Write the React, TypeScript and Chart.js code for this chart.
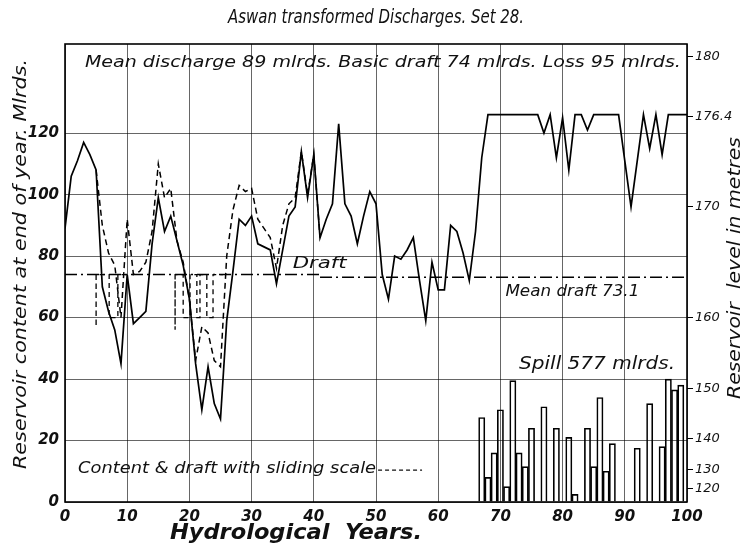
import React, { useEffect, useRef } from "react";
import { Chart, registerables } from "chart.js";

Chart.register(...registerables);

// Reservoir content at end of year (mlrds), years 0..100
const contentYears = [
  0, 1, 2, 3, 4, 5, 6, 7, 8, 9, 10, 11, 12, 13, 14, 15, 16, 17, 18, 19, 20,
  21, 22, 23, 24, 25, 26, 27, 28, 29, 30, 31, 32, 33, 34, 35, 36, 37, 38, 39, 40,
  41, 42, 43, 44, 45, 46, 47, 48, 49, 50, 51, 52, 53, 54, 55, 56, 57, 58, 59, 60,
  61, 62, 63, 64, 65, 66, 67, 68, 69, 70, 71, 72, 73, 74, 75, 76, 77, 78, 79, 80,
  81, 82, 83, 84, 85, 86, 87, 88, 89, 90, 91, 92, 93, 94, 95, 96, 97, 98, 99, 100,
];
const contentValues = [
  89, 106, 111, 117, 113, 108, 70, 62, 56, 45, 74, 58, 60, 62, 84, 99, 88, 93, 85, 77, 66,
  45, 30, 44, 32, 27, 59, 75, 92, 90, 93, 84, 83, 82, 71, 82, 93, 96, 114, 99, 113,
  86, 92, 97, 123, 97, 93, 84, 93, 101, 97, 74, 66, 80, 79, 82, 86, 72, 59, 78, 69,
  69, 90, 88, 81, 72, 88, 112, 126, 126, 126, 126, 126, 126, 126, 126, 126, 120, 126, 112, 125,
  108, 126, 126, 121, 126, 126, 126, 126, 126, 111, 96, 111, 126, 115, 126, 113, 126, 126, 126, 126,
];

// Content with sliding scale draft (dashed), years 5..41
const slidingYears = [
  5, 6, 7, 8, 9, 10, 11, 12, 13, 14, 15, 16, 17, 18, 19, 20, 21, 22, 23,
  24, 25, 26, 27, 28, 29, 30, 31, 32, 33, 34, 35, 36, 37, 38, 39, 40, 41,
];
const slidingValues = [
  108, 90, 81, 77, 60, 92, 74, 75, 78, 88, 110, 99, 102, 85, 78, 66, 46, 57, 55,
  46, 44, 80, 95, 103, 101, 102, 92, 89, 86, 76, 90, 97, 99, 114, 100, 113, 86,
];

// Draft with sliding scale (dashed steps); null breaks the line
const slideDraftYears = [5, 5, 7.1, 8.5, 9.8, 12, 17.7, 17.7, 19, 20.1, 21.2, 21.7, 22.8, 23.8, 25.4];
const slideDraftValues = [74, 57, 74, 60, 74, null, 74, 56, 74, 60, 74, 60, 74, 60, 74];

// Basic draft and mean draft (dash-dot)
const draftYears = [0, 41];
const draftValues = [74, 74];
const meanDraftYears = [41, 100];
const meanDraftValues = [73.1, 73.1];

// Spill per year (mlrds)
const spillYears = [
  67, 68, 69, 70, 71, 72, 73, 74, 75, 76, 77, 78, 79, 80, 81, 82, 83,
  84, 85, 86, 87, 88, 89, 90, 91, 92, 93, 94, 95, 96, 97, 98, 99,
];
const spillValues = [
  27.5, 8, 16, 30, 5, 39.5, 16, 11.5, 24, 0, 31, 0, 24, 0, 21, 2.5, 0,
  24, 11.5, 34, 10, 19, 0, 0, 0, 17.5, 0, 32, 0, 18, 40, 36.5, 38,
];

// Axis ticks
const leftTicks = [0, 20, 40, 60, 80, 100, 120];
const levelLabels = ["120", "130", "140", "150", "160", "170", "176.4", "180"];
const levelContent = [4.5, 10.5, 20.5, 37, 60, 96, 125.5, 145];

const FONT = '"DejaVu Sans", sans-serif';
const INK = "#111";

function drawFit(ctx: CanvasRenderingContext2D, text: string, x: number, y: number, size: number, width: number, weight = "normal", rotate = false) {
  ctx.save();
  ctx.font = `italic ${weight} ${size}px ${FONT}`;
  ctx.fillStyle = INK;
  ctx.textBaseline = "middle";
  const w = ctx.measureText(text).width;
  ctx.translate(x, y);
  if (rotate) {
    ctx.rotate(-Math.PI / 2);
    ctx.textAlign = "center";
  } else {
    ctx.textAlign = "left";
  }
  ctx.scale(width / w, 1);
  ctx.fillText(text, 0, 0);
  ctx.restore();
}

const textPlugin = {
  id: "texts",
  afterDraw(chart: any) {
    const { ctx, chartArea: ca, scales } = chart;
    const xs = scales.x;
    const ys = scales.y;
    ctx.save();
    ctx.strokeStyle = "#000";
    ctx.lineWidth = 1.6;
    ctx.strokeRect(ca.left, ca.top, ca.right - ca.left, ca.bottom - ca.top);
    ctx.restore();

    const X = (v: number) => xs.getPixelForValue(v);
    const Y = (v: number) => ys.getPixelForValue(v);

    // Title
    drawFit(ctx, "Aswan transformed Discharges. Set 28.", (ca.left + ca.right) / 2 - 148, 18, 20, 296);
    drawFit(ctx, "Mean discharge 89 mlrds. Basic draft 74 mlrds. Loss 95 mlrds.", X(3.2), Y(143), 16, 596);
    drawFit(ctx, "Draft", X(36.6), Y(77.5), 16, 54);
    drawFit(ctx, "Mean draft 73.1", X(70.8), Y(68.3), 16, 134);
    drawFit(ctx, "Spill 577 mlrds.", X(73), Y(44.8), 17, 156);
    drawFit(ctx, "Content & draft with sliding scale", X(2.1), Y(10.7), 15, 298);
    ctx.save();
    ctx.strokeStyle = INK;
    ctx.lineWidth = 1.2;
    ctx.setLineDash([4, 3]);
    ctx.beginPath();
    ctx.moveTo(X(2.1) + 300, Y(10.7) + 1);
    ctx.lineTo(X(2.1) + 344, Y(10.7) + 1);
    ctx.stroke();
    ctx.restore();

    // Axis titles
    drawFit(ctx, "Hydrological  Years.", 170, 534, 21, 252, "bold");
    drawFit(ctx, "Reservoir content at end of year. Mlrds.", 22, 264, 17, 410, "normal", true);
    drawFit(ctx, "Reservoir  level in metres", 736, 268, 17, 262, "normal", true);
  },
};

export default function App() {
  const ref = useRef<HTMLCanvasElement | null>(null);

  useEffect(() => {
    if (!ref.current) return;
    const lineBase = { type: "line" as const, borderColor: "#000", pointRadius: 0, fill: false, tension: 0, spanGaps: false };
    const chart = new Chart(ref.current, {
      type: "line",
      data: {
        datasets: [
          {
            ...lineBase,
            label: "Content",
            data: contentYears.map((x, i) => ({ x, y: contentValues[i] })),
            borderWidth: 1.7,
          },
          {
            ...lineBase,
            label: "Content with sliding scale",
            data: slidingYears.map((x, i) => ({ x, y: slidingValues[i] })),
            borderWidth: 1.5,
            borderDash: [6, 4],
          },
          {
            ...lineBase,
            label: "Draft with sliding scale",
            data: slideDraftYears.map((x, i) => ({ x, y: slideDraftValues[i] })),
            borderWidth: 1.3,
            borderDash: [5, 4],
            stepped: "after",
          },
          {
            ...lineBase,
            label: "Draft",
            data: draftYears.map((x, i) => ({ x, y: draftValues[i] })),
            borderWidth: 1.5,
            borderDash: [12, 4, 2, 4],
          },
          {
            ...lineBase,
            label: "Mean draft",
            data: meanDraftYears.map((x, i) => ({ x, y: meanDraftValues[i] })),
            borderWidth: 1.5,
            borderDash: [12, 4, 2, 4],
          },
          {
            type: "bar",
            label: "Spill",
            data: spillYears.map((x, i) => ({ x, y: spillValues[i] })),
            backgroundColor: "rgba(0,0,0,0)",
            borderColor: "#000",
            borderWidth: 1,
            barPercentage: 1,
            categoryPercentage: 1,
            borderSkipped: "start",
          } as any,
        ],
      },
      options: {
        animation: false,
        responsive: false,
        devicePixelRatio: 1,
        layout: { padding: { top: 44, left: 0, right: 0, bottom: 0 } },
        plugins: { legend: { display: false }, tooltip: { enabled: false } },
        scales: {
          x: {
            type: "linear",
            min: 0,
            max: 100,
            offset: false,
            ticks: { stepSize: 10, padding: 6, color: INK, font: { family: FONT, size: 15, style: "italic", weight: "bold" }, maxRotation: 0 },
            grid: { color: "rgba(0,0,0,0.6)", lineWidth: 1, drawTicks: false, offset: false },
            border: { display: false },
            afterFit: (s: any) => { s.height = 44; },
          },
          y: {
            type: "linear",
            position: "left",
            min: 0,
            max: 149,
            afterBuildTicks: (s: any) => { s.ticks = leftTicks.map((v) => ({ value: v })); },
            ticks: { padding: 6, color: INK, font: { family: FONT, size: 15, style: "italic", weight: "bold" }, autoSkip: false },
            grid: { color: "rgba(0,0,0,0.6)", lineWidth: 1, drawTicks: false },
            border: { display: false },
            afterFit: (s: any) => { s.width = 65; },
          },
          y2: {
            type: "linear",
            position: "right",
            min: 0,
            max: 149,
            afterBuildTicks: (s: any) => { s.ticks = levelContent.map((v) => ({ value: v })); },
            ticks: {
              padding: 2,
              color: INK,
              autoSkip: false,
              font: { family: FONT, size: 13, style: "italic" },
              callback: (_v: any, i: number) => levelLabels[i],
            },
            grid: { drawOnChartArea: false, drawTicks: true, tickLength: 6, color: "#000", lineWidth: 1 },
            border: { display: false },
            afterFit: (s: any) => { s.width = 63; },
          },
        },
      },
      plugins: [textPlugin],
    } as any);
    return () => chart.destroy();
  }, []);

  return (
    <div style={{ position: "fixed", left: 0, top: 0, width: 750, height: 546, background: "#fff" }}>
      <canvas ref={ref} width={750} height={546} style={{ display: "block" }} />
    </div>
  );
}
